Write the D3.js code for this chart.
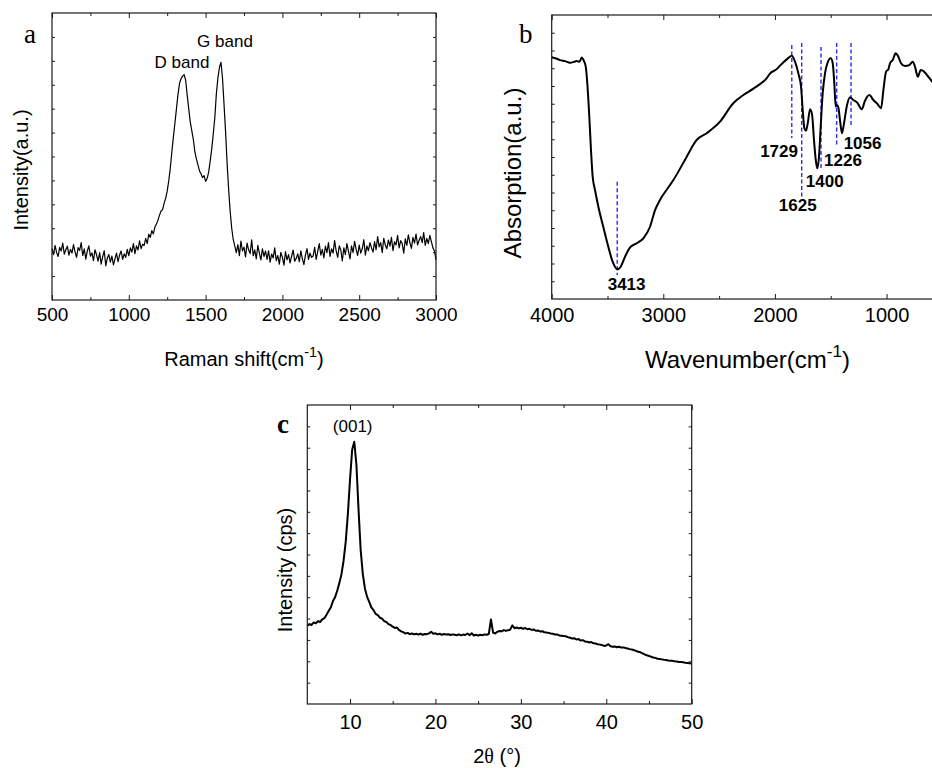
<!DOCTYPE html>
<html>
<head>
<meta charset="utf-8">
<script src="https://cdn.jsdelivr.net/npm/d3@7"></script>
<style>
  body { margin: 0; background: #fff; }
  svg { display: block; background: #fff; }
</style>
</head>
<body>
<div id="figure"></div>
<script>
// ---- data ----

// (a) Raman spectrum, sampled every 10 cm-1 from 500 to 3000
const ramanStart = 500;
const ramanStep = 10;
const ramanIntensity = [
  215, 190, 228, 198, 182, 220, 205, 238, 192, 210,
  225, 188, 212, 196, 232, 201, 178, 219, 207, 240,
  186, 214, 171, 205, 226, 183, 197, 164, 210, 189,
  162, 198, 150, 181, 206, 143, 175, 190, 158, 184,
  147, 172, 196, 160, 188, 205, 170, 193, 178, 212,
  185, 218, 200, 236, 194, 226, 209, 247, 215, 233,
  228, 258, 236, 275, 262, 290, 276, 305, 318, 334,
  355, 372, 378, 405, 425, 455, 498, 550, 618, 680,
  738, 798, 858, 905, 925, 936, 942, 920, 858, 800,
  745, 708, 672, 620, 590, 566, 540, 528, 512, 520,
  496, 508, 535, 582, 632, 695, 762, 862, 928, 972,
  994, 928, 818, 705, 572, 462, 370, 300, 252, 226,
  198, 232, 185, 246, 205, 221, 180, 238, 210, 194,
  252, 185, 210, 172, 228, 196, 168, 214, 182, 205,
  170, 206, 158, 192, 176, 218, 164, 186, 150, 199,
  178, 146, 202, 168, 190, 155, 183, 209, 162, 174,
  193, 160, 205, 172, 148, 188, 215, 170, 196, 178,
  184, 220, 170, 203, 236, 188, 212, 176, 225, 198,
  240, 182, 214, 196, 248, 205, 178, 226, 210, 163,
  218, 190, 236, 204, 172, 226, 198, 245, 212, 186,
  230, 196, 214, 252, 188, 226, 206, 240, 218, 200,
  244, 210, 265, 222, 240, 198, 258, 230, 214, 250,
  225, 262, 206, 244, 230, 270, 218, 248, 236, 196,
  256, 228, 272, 240, 216, 262, 238, 276, 230, 250,
  265, 240, 282, 228, 258, 236, 270, 244, 218, 205,
  168
];
const ramanMajorTicks = [500, 1000, 1500, 2000, 2500, 3000];
const ramanMinorTicks = [750, 1250, 1750, 2250, 2750];
const ramanBands = ["D band", "G band"];

// (b) FTIR spectrum
const ftirWavenumber = [
  4000, 3960, 3926, 3880, 3836, 3800, 3776, 3752, 3731, 3716, 3695, 3681, 3663, 3648,
  3633, 3612, 3582, 3538, 3493, 3454, 3412, 3382, 3343, 3298, 3238, 3179, 3119, 3074,
  3030, 2940, 2910, 2790, 2701, 2611, 2492, 2373, 2342, 2283, 2193, 2073, 2044, 1984,
  1954, 1894, 1849, 1820, 1790, 1766, 1751, 1736, 1721, 1706, 1685, 1667, 1650, 1634,
  1620, 1605, 1590, 1572, 1551, 1530, 1500, 1482, 1468, 1455, 1444, 1432, 1417, 1399,
  1381, 1357, 1327, 1298, 1262, 1222, 1193, 1154, 1118, 1082, 1049, 1028, 1004, 984,
  969, 945, 918, 894, 870, 834, 796, 765, 745, 720, 693, 664, 625, 591, 560
];
const ftirAbsorption = [
  13.62, 13.55, 13.46, 13.40, 13.31, 13.36, 13.41, 13.36, 13.60, 13.47, 13.09, 12.15, 10.27, 8.39,
  6.89, 6.14, 5.20, 4.07, 2.95, 2.10, 1.67, 1.82, 2.38, 2.91, 3.14, 3.42, 4.07, 5.01,
  5.58, 6.42, 6.70, 8.02, 8.96, 9.34, 9.99, 11.03, 11.21, 11.49, 11.85, 12.45, 12.70, 12.95,
  13.15, 13.50, 13.71, 13.37, 12.71, 11.96, 10.65, 9.62, 9.48, 9.90, 10.69, 10.37, 8.96, 7.83,
  7.36, 8.02, 9.71, 11.59, 12.72, 13.28, 13.56, 13.28, 12.15, 10.83, 10.93, 10.80, 10.08, 9.34,
  9.90, 10.83, 11.36, 11.21, 11.06, 10.69, 11.17, 11.49, 11.21, 10.99, 10.74, 11.78, 12.81, 12.94,
  13.28, 13.46, 13.84, 13.65, 13.28, 13.13, 13.18, 13.37, 13.09, 12.52, 12.90, 12.81, 12.52, 12.24, 12.00
];
const ftirMajorTicks = [4000, 3000, 2000, 1000];
const ftirMinorTicks = [3500, 2500, 1500, 500];
const ftirPeakLabels = ["3413", "1729", "1625", "1400", "1226", "1056"];
const ftirPeakLines = [3413, 1849, 1760, 1587, 1447, 1318];

// (c) XRD pattern, sampled every 0.25 degree from 5 to 50
const xrdStart = 5;
const xrdStep = 0.25;
const xrdCounts = [
  3.66, 3.74, 3.70, 3.82, 3.78, 3.88, 3.84, 3.96, 4.02, 4.18, 4.36, 4.52, 4.82, 5.00, 5.30, 5.66,
  6.08, 6.72, 7.60, 8.90, 10.50, 11.90, 12.28, 11.20, 9.10, 7.20, 6.08, 5.40, 5.02, 4.78, 4.52, 4.40,
  4.22, 4.16, 4.04, 4.00, 3.88, 3.84, 3.74, 3.70, 3.62, 3.56, 3.58, 3.46, 3.40, 3.36, 3.30, 3.33,
  3.27, 3.30, 3.26, 3.29, 3.25, 3.30, 3.24, 3.28, 3.27, 3.31, 3.38, 3.29, 3.31, 3.26, 3.29, 3.24,
  3.28, 3.25, 3.27, 3.23, 3.26, 3.24, 3.22, 3.26, 3.21, 3.25, 3.23, 3.30, 3.22, 3.31, 3.21, 3.24,
  3.20, 3.24, 3.22, 3.26, 3.24, 3.28, 3.96, 3.34, 3.30, 3.38, 3.42, 3.40, 3.46, 3.43, 3.45, 3.48,
  3.68, 3.55, 3.58, 3.54, 3.57, 3.52, 3.56, 3.50, 3.52, 3.47, 3.49, 3.43, 3.44, 3.40, 3.41, 3.36,
  3.35, 3.33, 3.30, 3.29, 3.25, 3.26, 3.21, 3.20, 3.18, 3.17, 3.13, 3.10, 3.07, 3.08, 3.02, 3.04,
  2.97, 2.99, 2.93, 2.92, 2.88, 2.90, 2.84, 2.83, 2.80, 2.78, 2.76, 2.72, 2.74, 2.80, 2.70, 2.68,
  2.69, 2.66, 2.68, 2.64, 2.65, 2.62, 2.60, 2.57, 2.55, 2.52, 2.48, 2.45, 2.42, 2.37, 2.32, 2.28,
  2.25, 2.21, 2.18, 2.16, 2.12, 2.11, 2.09, 2.07, 2.06, 2.04, 2.03, 2.02, 2.00, 1.99, 1.97, 1.97,
  1.95, 1.93, 1.92, 1.91, 1.89
];
const xrdMajorTicks = [10, 20, 30, 40, 50];
const xrdMinorTicks = [15, 25, 35, 45];
const xrdPeakLabel = "(001)";

// ---- drawing ----
const SANS = "'Liberation Sans', Arial, sans-serif";
const SERIF = "'Liberation Serif', 'Times New Roman', serif";
const INK = "#1a1a1a";

const svg = d3.select("#figure")
  .append("svg")
  .attr("width", 932)
  .attr("height", 768);

// box with inward ticks on all four sides, labels only on the bottom
function drawFrame(x, y, majorX, minorX, yStep, labelPad, labelSize) {
  const [x0, x1] = x.range();
  const [yb, yt] = y.range();
  const yTicks = d3.range(y.domain()[0] + yStep, y.domain()[1], yStep);

  svg.append("rect")
    .attr("x", x0).attr("y", yt)
    .attr("width", x1 - x0).attr("height", yb - yt)
    .attr("fill", "none").attr("stroke", INK).attr("stroke-width", 1.2);

  const clean = a => {
    a.select(".domain").remove();
    a.selectAll("line").attr("stroke", INK).attr("stroke-width", 1);
  };

  svg.append("g").attr("transform", `translate(0,${yb})`)
    .call(d3.axisBottom(x).tickValues(majorX).tickSize(-5).tickPadding(labelPad).tickFormat(d3.format("d")))
    .call(clean)
    .call(a => a.selectAll("text").attr("font-family", SANS).attr("font-size", labelSize).attr("fill", "#000"));
  svg.append("g").attr("transform", `translate(0,${yb})`)
    .call(d3.axisBottom(x).tickValues(minorX).tickSize(-3).tickFormat(""))
    .call(clean);
  svg.append("g").attr("transform", `translate(0,${yt})`)
    .call(d3.axisTop(x).tickValues(majorX).tickSize(-5).tickFormat(""))
    .call(clean);
  svg.append("g").attr("transform", `translate(0,${yt})`)
    .call(d3.axisTop(x).tickValues(minorX).tickSize(-3).tickFormat(""))
    .call(clean);
  svg.append("g").attr("transform", `translate(${x0},0)`)
    .call(d3.axisLeft(y).tickValues(yTicks).tickSize(-3).tickFormat(""))
    .call(clean);
  svg.append("g").attr("transform", `translate(${x1},0)`)
    .call(d3.axisRight(y).tickValues(yTicks).tickSize(-3).tickFormat(""))
    .call(clean);
}

function xTitle(cx, baseline, size, main, sup, tail) {
  const t = svg.append("text")
    .attr("x", cx).attr("y", baseline)
    .attr("text-anchor", "middle")
    .attr("font-family", SANS).attr("font-size", size);
  t.append("tspan").text(main);
  if (sup) {
    t.append("tspan").attr("dy", -size * 0.45).attr("font-size", size * 0.72).text(sup);
    t.append("tspan").attr("dy", size * 0.45).text(tail);
  }
  return t;
}

function yTitle(cx, cy, size, label) {
  svg.append("text")
    .attr("transform", `translate(${cx},${cy}) rotate(-90)`)
    .attr("text-anchor", "middle").attr("dy", "0.35em")
    .attr("font-family", SANS).attr("font-size", size)
    .text(label);
}

function panelLetter(x, y, letter, bold) {
  svg.append("text")
    .attr("x", x).attr("y", y)
    .attr("font-family", SERIF).attr("font-size", 27)
    .attr("font-weight", bold ? "bold" : "normal")
    .text(letter);
}

// ---------- (a) Raman ----------
const xA = d3.scaleLinear().domain([500, 3000]).range([52, 436]);
const yA = d3.scaleLinear().domain([0, 1200]).range([300, 13]);

svg.append("path")
  .datum(ramanIntensity)
  .attr("fill", "none").attr("stroke", "#000").attr("stroke-width", 1.2)
  .attr("stroke-linejoin", "round")
  .attr("d", d3.line().x((d, i) => xA(ramanStart + i * ramanStep)).y(d => yA(d)));

drawFrame(xA, yA, ramanMajorTicks, ramanMinorTicks, 100, 8, 19);

svg.append("text").attr("x", 182).attr("y", 68)
  .attr("text-anchor", "middle").attr("font-family", SANS).attr("font-size", 17)
  .text(ramanBands[0]);
svg.append("text").attr("x", 225).attr("y", 47)
  .attr("text-anchor", "middle").attr("font-family", SANS).attr("font-size", 17)
  .text(ramanBands[1]);

xTitle(244, 366, 20, "Raman shift(cm", "-1", ")");
yTitle(21, 170, 20, "Intensity(a.u.)");
panelLetter(24, 43, "a", false);

// ---------- (b) FTIR ----------
const xB = d3.scaleLinear().domain([4000, 400]).range([551.7, 953.5]);
const yB = d3.scaleLinear().domain([0, 16]).range([299, 15]);

// peak guide lines
const peakLayout = [
  { y0: 6.61, y1: 1.35, dx: 9.4,   yl: 0.51 },
  { y0: 14.31, y1: 9.07, dx: -12.7, yl: 8.02 },
  { y0: 14.42, y1: 5.75, dx: -4,    yl: 4.96 },
  { y0: 14.20, y1: 7.27, dx: 3.7,   yl: 6.29 },
  { y0: 14.42, y1: 8.56, dx: 6.3,   yl: 7.51 },
  { y0: 14.42, y1: 9.69, dx: 11.5,  yl: 8.43 }
];

svg.append("g").selectAll("line")
  .data(ftirPeakLines)
  .join("line")
  .attr("x1", d => xB(d)).attr("x2", d => xB(d))
  .attr("y1", (d, i) => yB(peakLayout[i].y0))
  .attr("y2", (d, i) => yB(peakLayout[i].y1))
  .attr("stroke", "#2a2aff").attr("stroke-width", 1.4)
  .attr("stroke-dasharray", "4,2.5");

svg.append("path")
  .datum(d3.zip(ftirWavenumber, ftirAbsorption))
  .attr("fill", "none").attr("stroke", "#000").attr("stroke-width", 2)
  .attr("stroke-linejoin", "round")
  .attr("d", d3.line().curve(d3.curveMonotoneX).x(d => xB(d[0])).y(d => yB(d[1])));

svg.append("g").selectAll("text")
  .data(ftirPeakLabels)
  .join("text")
  .attr("x", (d, i) => xB(ftirPeakLines[i]) + peakLayout[i].dx)
  .attr("y", (d, i) => yB(peakLayout[i].yl))
  .attr("text-anchor", "middle")
  .attr("font-family", SANS).attr("font-size", 17).attr("font-weight", "bold")
  .text(d => d);

drawFrame(xB, yB, ftirMajorTicks, ftirMinorTicks, 1, 9, 20);

xTitle(747.5, 368, 24, "Wavenumber(cm", "-1", ")");
yTitle(513, 173, 24, "Absorption(a.u.)");
panelLetter(519, 43, "b", false);

// ---------- (c) XRD ----------
const xC = d3.scaleLinear().domain([5, 50]).range([307.3, 691.7]);
const yC = d3.scaleLinear().domain([0, 14]).range([704, 405]);

svg.append("path")
  .datum(xrdCounts)
  .attr("fill", "none").attr("stroke", "#000").attr("stroke-width", 2)
  .attr("stroke-linejoin", "round")
  .attr("d", d3.line().x((d, i) => xC(xrdStart + i * xrdStep)).y(d => yC(d)));

drawFrame(xC, yC, xrdMajorTicks, xrdMinorTicks, 1, 11, 20);

svg.append("text").attr("x", 352.7).attr("y", 432)
  .attr("text-anchor", "middle").attr("font-family", SANS).attr("font-size", 17)
  .text(xrdPeakLabel);

const tC = svg.append("text")
  .attr("x", 497).attr("y", 763)
  .attr("text-anchor", "middle")
  .attr("font-family", SANS).attr("font-size", 20);
tC.append("tspan").text("2");
tC.append("tspan").attr("font-family", SERIF).text("θ");
tC.append("tspan").text(" (°)");

yTitle(285, 570, 20, "Intensity (cps)");
panelLetter(277, 433, "c", true);
</script>
</body>
</html>
